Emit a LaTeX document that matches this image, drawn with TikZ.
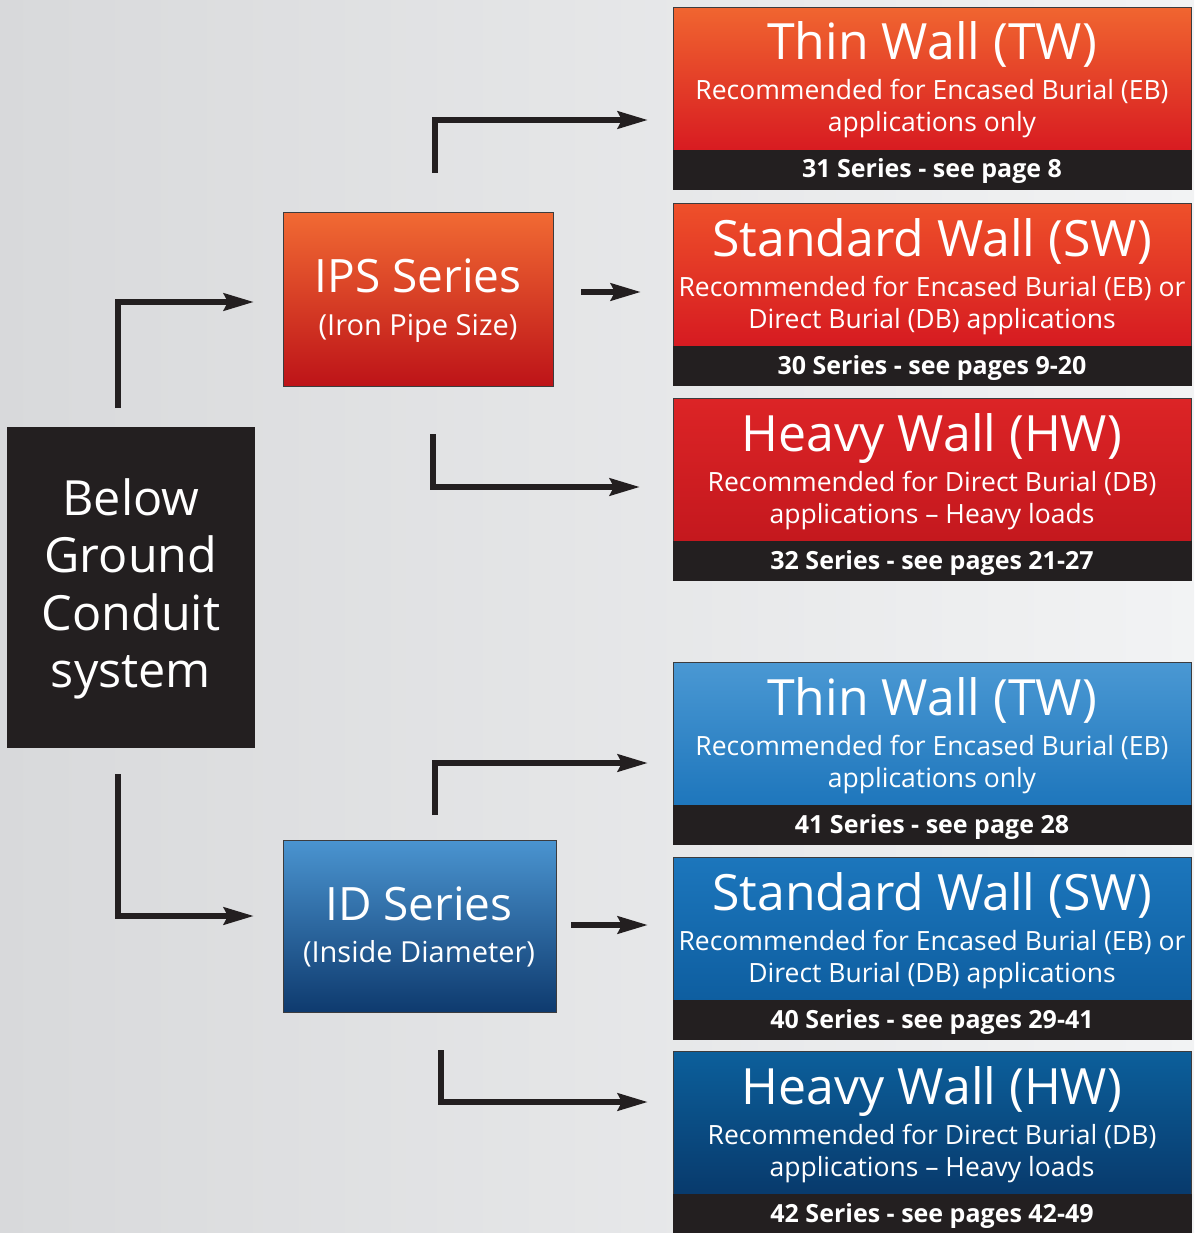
\documentclass[tikz,border=0pt]{standalone}
\usepackage{fontspec}
\setmainfont{Open Sans}
\usetikzlibrary{arrows.meta}
\definecolor{bgL}{RGB}{216,217,219}
\definecolor{bgR}{RGB}{242,243,244}
\definecolor{ink}{RGB}{35,31,32}
\definecolor{edge}{RGB}{60,60,62}
\definecolor{ipsT}{RGB}{241,106,51}
\definecolor{ipsB}{RGB}{189,19,24}
\definecolor{rAT}{RGB}{240,101,48}
\definecolor{rAB}{RGB}{216,27,33}
\definecolor{rBT}{RGB}{238,80,42}
\definecolor{rBB}{RGB}{214,26,33}
\definecolor{rCT}{RGB}{220,36,38}
\definecolor{rCB}{RGB}{196,24,30}
\definecolor{idT}{RGB}{74,148,208}
\definecolor{idB}{RGB}{14,58,110}
\definecolor{bAT}{RGB}{74,152,211}
\definecolor{bAB}{RGB}{30,118,188}
\definecolor{bBT}{RGB}{28,118,188}
\definecolor{bBB}{RGB}{14,94,160}
\definecolor{bCT}{RGB}{12,95,155}
\definecolor{bCB}{RGB}{8,58,108}
\tikzset{
  arr/.style={draw=ink, line width=6pt, -{Stealth[length=30pt,width=17pt,inset=4pt]}},
  colbox/.style={rectangle, draw=edge, line width=1pt, minimum width=518pt, minimum height=143pt, inner sep=0pt, anchor=north west},
  bandbox/.style={rectangle, fill=ink, minimum width=519pt, minimum height=40pt, inner sep=0pt, anchor=north west},
  ttl/.style={text=white, anchor=base, inner sep=0pt, font=\fontsize{50}{50}\selectfont},
  sub/.style={text=white, anchor=base, inner sep=0pt, font=\fontsize{26.5}{26.5}\selectfont},
  bnd/.style={text=white, anchor=base, inner sep=0pt, font=\bfseries\fontsize{25}{25}\selectfont},
  big/.style={text=white, anchor=base, inner sep=0pt, font=\fontsize{48.5}{48.5}\selectfont},
  mid/.style={text=white, anchor=base, inner sep=0pt, font=\fontsize{46}{46}\selectfont},
  small/.style={text=white, anchor=base, inner sep=0pt, font=\fontsize{29}{29}\selectfont},
}
\begin{document}
\begin{tikzpicture}[x=1pt,y=-1pt]
\useasboundingbox (0,0) rectangle (1194,1233);
\shade[left color=bgL, right color=bgR] (0,0) rectangle (1194,1233);

% root
\node[rectangle, fill=ink, minimum width=248pt, minimum height=321pt, inner sep=0pt, anchor=north west] (root) at (7,427) {};
\node[big] (rt1) at (131,515) {Below};
\node[big] (rt2) at (131,572) {Ground};
\node[big] (rt3) at (131,630) {Conduit};
\node[big] (rt4) at (131,687) {system};

% series boxes
\node[rectangle, draw=edge, line width=1pt, top color=ipsT, bottom color=ipsB, minimum width=270pt, minimum height=174pt, inner sep=0pt, anchor=north west] (ips) at (283,212) {};
\node[mid] (ipsA) at (418,292) {IPS Series};
\node[small] (ipsB) at (418,335) {(Iron Pipe Size)};

\node[rectangle, draw=edge, line width=1pt, top color=idT, bottom color=idB, minimum width=273pt, minimum height=172pt, inner sep=0pt, anchor=north west] (id) at (283,840) {};
\node[mid] (idA) at (419,920) {ID Series};
\node[small] (idB) at (419,962) {(Inside Diameter)};

% right boxes
\node[colbox, top color=rAT, bottom color=rAB] (r1) at (673,7) {};
\node[bandbox] (b1) at (673,150) {};
\node[ttl] (t1) at (932,60) {Thin Wall (TW)};
\node[sub] (u1a) at (932,100) {Recommended for Encased Burial (EB)};
\node[sub] (u1b) at (932,132) {applications only};
\node[bnd] (n1) at (932,178) {31 Series - see page 8};

\node[colbox, top color=rBT, bottom color=rBB] (r2) at (673,203) {};
\node[bandbox] (b2) at (673,346) {};
\node[ttl] (t2) at (932,256) {Standard Wall (SW)};
\node[sub] (u2a) at (932,296) {Recommended for Encased Burial (EB) or};
\node[sub] (u2b) at (932,328) {Direct Burial (DB) applications};
\node[bnd] (n2) at (932,374) {30 Series - see pages 9-20};

\node[colbox, top color=rCT, bottom color=rCB] (r3) at (673,398) {};
\node[bandbox] (b3) at (673,541) {};
\node[ttl] (t3) at (932,451) {Heavy Wall (HW)};
\node[sub] (u3a) at (932,491) {Recommended for Direct Burial (DB)};
\node[sub] (u3b) at (932,523) {applications – Heavy loads};
\node[bnd] (n3) at (932,569) {32 Series - see pages 21-27};

\node[colbox, top color=bAT, bottom color=bAB] (r4) at (673,662) {};
\node[bandbox] (b4) at (673,805) {};
\node[ttl] (t4) at (932,715) {Thin Wall (TW)};
\node[sub] (u4a) at (932,755) {Recommended for Encased Burial (EB)};
\node[sub] (u4b) at (932,787) {applications only};
\node[bnd] (n4) at (932,833) {41 Series - see page 28};

\node[colbox, top color=bBT, bottom color=bBB] (r5) at (673,857) {};
\node[bandbox] (b5) at (673,1000) {};
\node[ttl] (t5) at (932,910) {Standard Wall (SW)};
\node[sub] (u5a) at (932,950) {Recommended for Encased Burial (EB) or};
\node[sub] (u5b) at (932,982) {Direct Burial (DB) applications};
\node[bnd] (n5) at (932,1028) {40 Series - see pages 29-41};

\node[colbox, top color=bCT, bottom color=bCB] (r6) at (673,1051) {};
\node[bandbox] (b6) at (673,1194) {};
\node[ttl] (t6) at (932,1104) {Heavy Wall (HW)};
\node[sub] (u6a) at (932,1144) {Recommended for Direct Burial (DB)};
\node[sub] (u6b) at (932,1176) {applications – Heavy loads};
\node[bnd] (n6) at (932,1222) {42 Series - see pages 42-49};

% connectors
\coordinate (s1) at (118,408);
\coordinate (s2) at (118,774);
\coordinate (s3) at (435,173);
\coordinate (s4) at (581,292);
\coordinate (s5) at (433,434);
\coordinate (s6) at (435,815);
\coordinate (s7) at (571,925);
\coordinate (s8) at (441,1050);
\draw[arr, shorten >=29pt] (s1) |- (ips.west |- 0,302);
\draw[arr, shorten >=29pt] (s2) |- (id.west |- 0,916);
\draw[arr, shorten >=25pt] (s3) |- (r1.west |- 0,120);
\draw[arr, shorten >=32pt] (s4) -- (r2.west |- 0,292);
\draw[arr, shorten >=33pt] (s5) |- (r3.west |- 0,487);
\draw[arr, shorten >=25pt] (s6) |- (r4.west |- 0,763);
\draw[arr, shorten >=25pt] (s7) -- (r5.west |- 0,925);
\draw[arr, shorten >=25pt] (s8) |- (r6.west |- 0,1102);
\end{tikzpicture}
\end{document}
